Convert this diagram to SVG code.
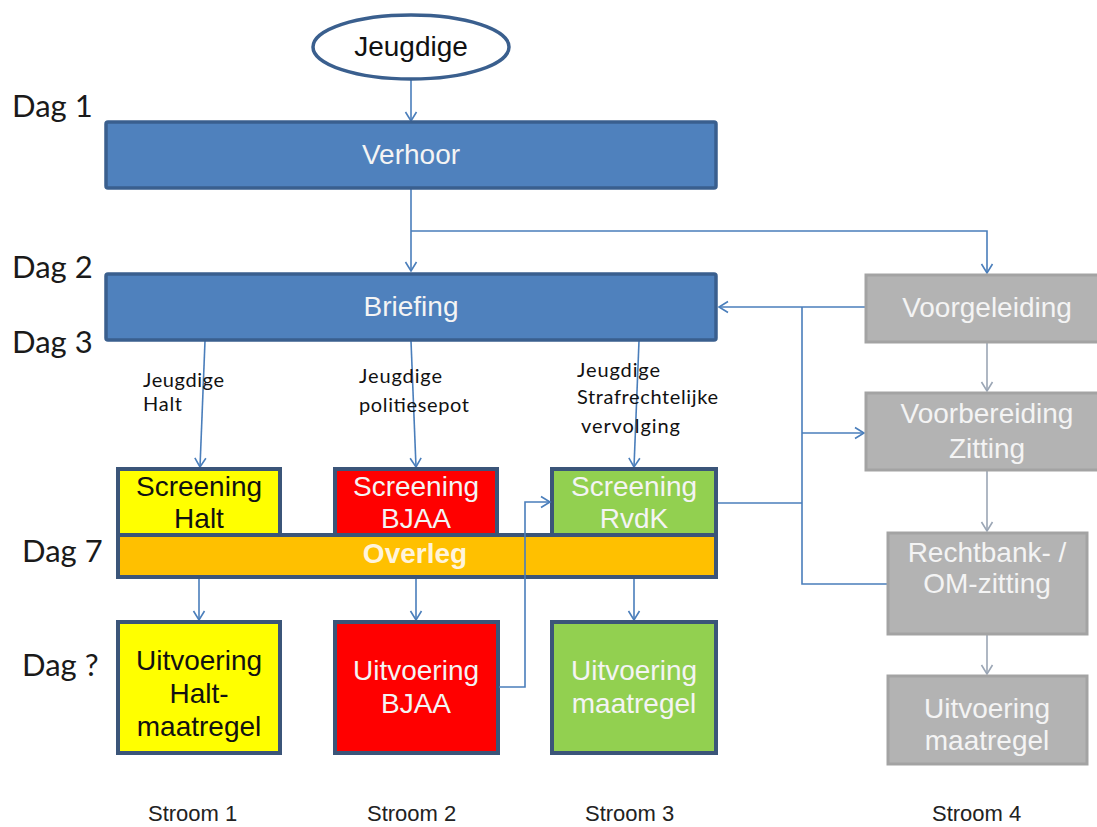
<svg xmlns="http://www.w3.org/2000/svg" width="1097" height="827" viewBox="0 0 1097 827">
<style>
.day{font-family:Lato,"Open Sans",sans-serif;font-size:31px;fill:#1a1a1a}
.lbl{font-family:Lato,"Open Sans",sans-serif;font-size:20px;fill:#111}
.bt{font-family:"Liberation Sans",Arial,sans-serif;font-size:28px;text-anchor:middle}
.w{fill:#f4f4f4}
.k{fill:#111}
.st{font-family:"Liberation Sans",Arial,sans-serif;font-size:22px;fill:#222}
.blue{fill:#4f81bd;stroke:#3a5f8e;stroke-width:3.5}
.col{stroke:#3b5579;stroke-width:4}
.grey{fill:#b3b3b3;stroke:#a3a3a3;stroke-width:3}
.cn{fill:none;stroke:#4a7ebb;stroke-width:1.6}
.cg{fill:none;stroke:#9ba6b5;stroke-width:1.6}
</style>
<defs>
<marker id="a" markerUnits="userSpaceOnUse" markerWidth="14" markerHeight="14" refX="11" refY="7" orient="auto">
<path d="M2,1.5 L11,7 L2,12.5" fill="none" stroke="#4a7ebb" stroke-width="1.6"/>
</marker>
<marker id="ag" markerUnits="userSpaceOnUse" markerWidth="14" markerHeight="14" refX="11" refY="7" orient="auto">
<path d="M2,1.5 L11,7 L2,12.5" fill="none" stroke="#9ba6b5" stroke-width="1.6"/>
</marker>
</defs>
<rect width="1097" height="827" fill="#ffffff"/>

<g id="days">
<text class="day" x="12" y="117">Dag 1</text>
<text class="day" x="12" y="278">Dag 2</text>
<text class="day" x="12" y="353">Dag 3</text>
<text class="day" x="22" y="562">Dag 7</text>
<text class="day" x="22" y="676">Dag ?</text>
</g>

<g id="connectors">
<path class="cn" d="M411,80 V121" marker-end="url(#a)"/>
<path class="cn" d="M411,188 V271" marker-end="url(#a)"/>
<path class="cn" d="M411,231 H987 V273" marker-end="url(#a)"/>
<path class="cn" d="M866,307 H719" marker-end="url(#a)"/>
<path class="cn" d="M802,307 V584 H888"/>
<path class="cn" d="M802,433 H864" marker-end="url(#a)"/>
<path class="cn" d="M717,503 H802"/>
<path class="cn" d="M205,341 L200,467" marker-end="url(#a)"/>
<path class="cn" d="M411,341 L416,467" marker-end="url(#a)"/>
<path class="cn" d="M639,341 L634,467" marker-end="url(#a)"/>
<path class="cn" d="M199,578 V620" marker-end="url(#a)"/>
<path class="cn" d="M416,578 V620" marker-end="url(#a)"/>
<path class="cn" d="M634,578 V620" marker-end="url(#a)"/>
<path class="cg" d="M987,342 V391" marker-end="url(#ag)"/>
<path class="cg" d="M987,471 V531" marker-end="url(#ag)"/>
<path class="cg" d="M987,635 V674" marker-end="url(#ag)"/>
</g>

<g id="labels">
<text class="lbl" x="143" y="387" textLength="81" lengthAdjust="spacing">Jeugdige</text>
<text class="lbl" x="143" y="411" textLength="39" lengthAdjust="spacing">Halt</text>
<text class="lbl" x="359" y="383" textLength="83" lengthAdjust="spacing">Jeugdige</text>
<text class="lbl" x="359" y="412" textLength="110" lengthAdjust="spacing">politiesepot</text>
<text class="lbl" x="577" y="377" textLength="83" lengthAdjust="spacing">Jeugdige</text>
<text class="lbl" x="577" y="404" textLength="141" lengthAdjust="spacing">Strafrechtelijke</text>
<text class="lbl" x="581" y="433" textLength="99" lengthAdjust="spacing">vervolging</text>
</g>

<g id="jeugdige">
<ellipse cx="411" cy="47" rx="98" ry="32" fill="#ffffff" stroke="#3a5f8e" stroke-width="3.5"/>
<text class="bt k" x="411" y="56" font-size="25">Jeugdige</text>
</g>

<g id="verhoor">
<rect class="blue" x="106" y="122" width="610" height="66" rx="2"/>
<text class="bt w" x="411" y="164" font-size="27">Verhoor</text>
</g>

<g id="briefing">
<rect class="blue" x="106" y="274" width="610" height="66" rx="2"/>
<text class="bt w" x="411" y="316" font-size="27">Briefing</text>
</g>

<g id="overleg">
<rect class="col" x="118" y="535" width="598" height="42" fill="#ffc000"/>
<text class="bt" x="415" y="563" font-size="18" font-weight="bold" fill="#fff4dc">Overleg</text>
</g>

<g id="screening-halt">
<rect class="col" x="118" y="469" width="162" height="66" fill="#ffff00"/>
<text class="bt k" x="199" y="496">Screening</text>
<text class="bt k" x="199" y="528">Halt</text>
</g>

<g id="screening-bjaa">
<rect class="col" x="335" y="469" width="162" height="66" fill="#ff0000"/>
<text class="bt w" x="416" y="496">Screening</text>
<text class="bt w" x="416" y="528">BJAA</text>
</g>

<g id="screening-rvdk">
<rect class="col" x="552" y="469" width="164" height="66" fill="#92d050"/>
<text class="bt w" x="634" y="496">Screening</text>
<text class="bt w" x="634" y="528">RvdK</text>
</g>

<g id="uitvoering-halt">
<rect class="col" x="118" y="622" width="162" height="131" fill="#ffff00"/>
<text class="bt k" x="199" y="670">Uitvoering</text>
<text class="bt k" x="199" y="703">Halt-</text>
<text class="bt k" x="199" y="736">maatregel</text>
</g>

<g id="uitvoering-bjaa">
<rect class="col" x="335" y="622" width="163" height="131" fill="#ff0000"/>
<text class="bt w" x="416" y="680">Uitvoering</text>
<text class="bt w" x="416" y="713">BJAA</text>
</g>

<g id="uitvoering-maatregel-3">
<rect class="col" x="552" y="622" width="164" height="131" fill="#92d050"/>
<text class="bt w" x="634" y="680">Uitvoering</text>
<text class="bt w" x="634" y="713">maatregel</text>
</g>

<g id="bjaa-to-rvdk">
<path class="cn" d="M499,687 H525 V502 H550" marker-end="url(#a)"/>
</g>

<g id="voorgeleiding">
<rect class="grey" x="866" y="275" width="240" height="67"/>
<text class="bt w" x="987" y="317">Voorgeleiding</text>
</g>

<g id="voorbereiding">
<rect class="grey" x="866" y="393" width="240" height="77"/>
<text class="bt w" x="987" y="423">Voorbereiding</text>
<text class="bt w" x="987" y="458">Zitting</text>
</g>

<g id="rechtbank">
<rect class="grey" x="888" y="533" width="199" height="101"/>
<text class="bt w" x="987" y="562">Rechtbank- /</text>
<text class="bt w" x="987" y="593">OM-zitting</text>
</g>

<g id="uitvoering-maatregel-4">
<rect class="grey" x="888" y="676" width="199" height="88"/>
<text class="bt w" x="987" y="718">Uitvoering</text>
<text class="bt w" x="987" y="750">maatregel</text>
</g>

<g id="streams">
<text class="st" x="148" y="821">Stroom 1</text>
<text class="st" x="367" y="821">Stroom 2</text>
<text class="st" x="585" y="821">Stroom 3</text>
<text class="st" x="932" y="821">Stroom 4</text>
</g>
</svg>
